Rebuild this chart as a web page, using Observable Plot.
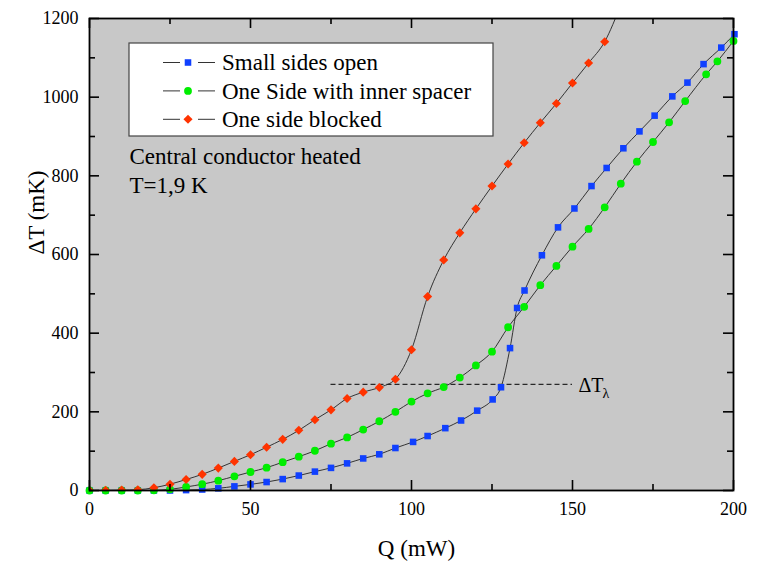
<!DOCTYPE html>
<html>
<head>
<meta charset="utf-8">
<script src="https://cdn.jsdelivr.net/npm/d3@7"></script>
<script src="https://cdn.jsdelivr.net/npm/@observablehq/plot@0.6"></script>
<style>
  html, body { margin: 0; padding: 0; background: #ffffff; }
  #chart { width: 764px; height: 562px; }
</style>
</head>
<body>
<div id="chart"></div>
<script>
// ---- data ----
const seriesNames = ["Small sides open", "One Side with inner spacer", "One side blocked"];

const qOpen = [0,5,10,15,20,25,30,35,40,45,50,55,60,65,70,75,80,85,90,95,
  100.5,105,110.5,115.4,120.4,125.2,127.8,130.6,132.8,135.1,
  140.5,145.5,150.6,155.9,160.6,165.8,170.8,175.5,181,185.7,190.7,196.2,200.3];
const tOpen = [0,0,0,0,0,0,1,2.5,5.5,10.5,15.5,21.5,29,38,48,57.5,69,81.5,92,108,
  123.5,138.5,158.5,178,203,231.5,262.5,362,464,508.5,
  598,669,717,774,820,870,913,953,1002,1037,1084,1126,1160];

const qSpacer = [0,5,10,15,20,25,30,35,40,45,50,55,60,65,70,75,80,85,90,95,
  100,105,110,115,120,125,130,135,140,145,150,155,160,165,170,175,180,185,191.5,195,200];
const tSpacer = [0,0,0,0,0.5,3,9,16,25,36,47,58,72,86,101,119,135,155,176,200,
  226,247,263,287,318,353,415,467,522,571,620,665,720,780,836,886,936,990,1058,1091,1143];

const qBlocked = [0,5,10,15,20,25,30,35,40,45,50,55,60,65,70,75,80,85,90,95,
  100,105,110,115,120,125,130,135,140,145,150,155,160,165];
const tBlocked = [0,0.5,1,2,7,16,28,41,57,74,91,110,130,153,180,205,234,250,262,283,
  358,493,586,655,716,774,830,884,935,984,1036,1087,1141,1235];

const dTlambda = 270;            // level of the dashed line
const dTlambdaRange = [75, 150]; // Q extent of the dashed line

const xMajor = [0, 50, 100, 150, 200];
const xMinor = [25, 75, 125, 175];
const yMajor = [0, 200, 400, 600, 800, 1000, 1200];
const yMinor = [100, 300, 500, 700, 900, 1100];

const annotationLines = ["Central conductor heated", "T=1,9 K"];

// ---- styling ----
const colors = ["#1040ff", "#00ee00", "#ff3300"];
const symbols = ["square", "circle", "diamond2"];
const radii = [3.7, 3.9, 4.1];
const d3Symbols = {square: d3.symbolSquare, circle: d3.symbolCircle, diamond2: d3.symbolDiamond2};
const font = "'Liberation Serif', 'Times New Roman', Times, serif";

const toRows = (qs, ts) => qs.map((q, i) => ({Q: q, T: ts[i]}));
const series = [toRows(qOpen, tOpen), toRows(qSpacer, tSpacer), toRows(qBlocked, tBlocked)];

const W = 764, H = 562;
const mL = 89, mR = 31, mT = 18, mB = 72;
const pw = W - mL - mR, ph = H - mT - mB;
const majorLen = 10, minorLen = 6;

// legend drawn inside the frame
function legendMark(index, scales, values, dims) {
  const g = d3.create("svg:g").attr("font-family", font).attr("text-anchor", "start");
  const x0 = dims.marginLeft + 40, y0 = dims.marginTop + 25;
  const bw = 364, bh = 93;
  g.append("rect").attr("x", x0).attr("y", y0).attr("width", bw).attr("height", bh)
    .attr("fill", "white").attr("stroke", "#444").attr("stroke-width", 1.2);
  seriesNames.forEach((name, i) => {
    const cy = y0 + 19.5 + i * 28.4;
    const mx = x0 + 59;
    g.append("line").attr("x1", x0 + 34).attr("x2", x0 + 51).attr("y1", cy).attr("y2", cy)
      .attr("stroke", "#333").attr("stroke-width", 1);
    g.append("line").attr("x1", x0 + 69).attr("x2", x0 + 86).attr("y1", cy).attr("y2", cy)
      .attr("stroke", "#333").attr("stroke-width", 1);
    g.append("path")
      .attr("d", d3.symbol().type(d3Symbols[symbols[i]]).size(Math.PI * radii[i] * radii[i])())
      .attr("transform", `translate(${mx},${cy})`).attr("fill", colors[i]);
    g.append("text").attr("x", x0 + 93).attr("y", cy).attr("dy", "0.34em")
      .attr("text-anchor", "start").attr("font-size", 23).attr("fill", "black").text(name);
  });
  return g.node();
}

const marks = [
  Plot.frame({fill: "#c8c8c8", stroke: null}),
  // dashed Delta T lambda line
  Plot.ruleY([dTlambda], {x1: dTlambdaRange[0], x2: dTlambdaRange[1], stroke: "black", strokeWidth: 1, strokeDasharray: "5,3"}),
  // connecting lines
  ...series.map((rows) => Plot.line(rows, {x: "Q", y: "T", stroke: "#222", strokeWidth: 0.9, curve: "monotone-x", clip: true})),
  // markers
  ...series.map((rows, i) => Plot.dot(rows, {x: "Q", y: "T", symbol: () => symbols[i], fill: colors[i], r: radii[i], clip: i === 2})),
  // inward ticks on all four sides
  Plot.tickX(xMajor, {x: d => d, insetTop: ph - majorLen, stroke: "black", strokeWidth: 1.6}),
  Plot.tickX(xMinor, {x: d => d, insetTop: ph - minorLen, stroke: "black", strokeWidth: 1.6}),
  Plot.tickX(xMajor, {x: d => d, insetBottom: ph - majorLen, stroke: "black", strokeWidth: 1.6}),
  Plot.tickX(xMinor, {x: d => d, insetBottom: ph - minorLen, stroke: "black", strokeWidth: 1.6}),
  Plot.tickY(yMajor, {y: d => d, insetRight: pw - majorLen, stroke: "black", strokeWidth: 1.6}),
  Plot.tickY(yMinor, {y: d => d, insetRight: pw - minorLen, stroke: "black", strokeWidth: 1.6}),
  Plot.tickY(yMajor, {y: d => d, insetLeft: pw - majorLen, stroke: "black", strokeWidth: 1.6}),
  Plot.tickY(yMinor, {y: d => d, insetLeft: pw - minorLen, stroke: "black", strokeWidth: 1.6}),
  Plot.frame({stroke: "black", strokeWidth: 1.8}),
  // tick labels
  Plot.axisX({ticks: xMajor, tickSize: 0, tickPadding: 12, fontSize: 18, fontFamily: font, label: null, tickFormat: d => String(d)}),
  Plot.axisY({ticks: yMajor, tickSize: 0, tickPadding: 11, fontSize: 18, fontFamily: font, label: null, tickFormat: d => String(d)}),
  // axis titles
  Plot.text(["Q (mW)"], {frameAnchor: "bottom", dx: 5, dy: 58, text: d => d, fontSize: 23, fontFamily: font, lineAnchor: "middle", fill: "black"}),
  Plot.text(["ΔT (mK)"], {frameAnchor: "left", dx: -53, dy: 0, rotate: -90, text: d => d, fontSize: 23, fontFamily: font, lineAnchor: "middle", fill: "black"}),
  // annotations
  Plot.text([annotationLines[0]], {frameAnchor: "top-left", dx: 40, dy: 138, text: d => d, textAnchor: "start", lineAnchor: "middle", fontSize: 23, fontFamily: font, fill: "black"}),
  Plot.text([annotationLines[1]], {frameAnchor: "top-left", dx: 40, dy: 167, text: d => d, textAnchor: "start", lineAnchor: "middle", fontSize: 23, fontFamily: font, fill: "black"}),
  Plot.text([dTlambda], {x: dTlambdaRange[1], y: d => d, text: () => "ΔT", dx: 6, dy: 1, textAnchor: "start", lineAnchor: "middle", fontSize: 20, fontFamily: font, fill: "black"}),
  Plot.text([dTlambda], {x: dTlambdaRange[1], y: d => d, text: () => "λ", dx: 30, dy: 9, textAnchor: "start", lineAnchor: "middle", fontSize: 14, fontFamily: font, fill: "black"}),
  legendMark
];

const chart = Plot.plot({
  width: W, height: H,
  marginLeft: mL, marginRight: mR, marginTop: mT, marginBottom: mB,
  x: {domain: [0, 200]},
  y: {domain: [0, 1200]},
  style: {fontFamily: font, background: "white", color: "black", overflow: "visible"},
  marks
});
document.getElementById("chart").appendChild(chart);
</script>
</body>
</html>
